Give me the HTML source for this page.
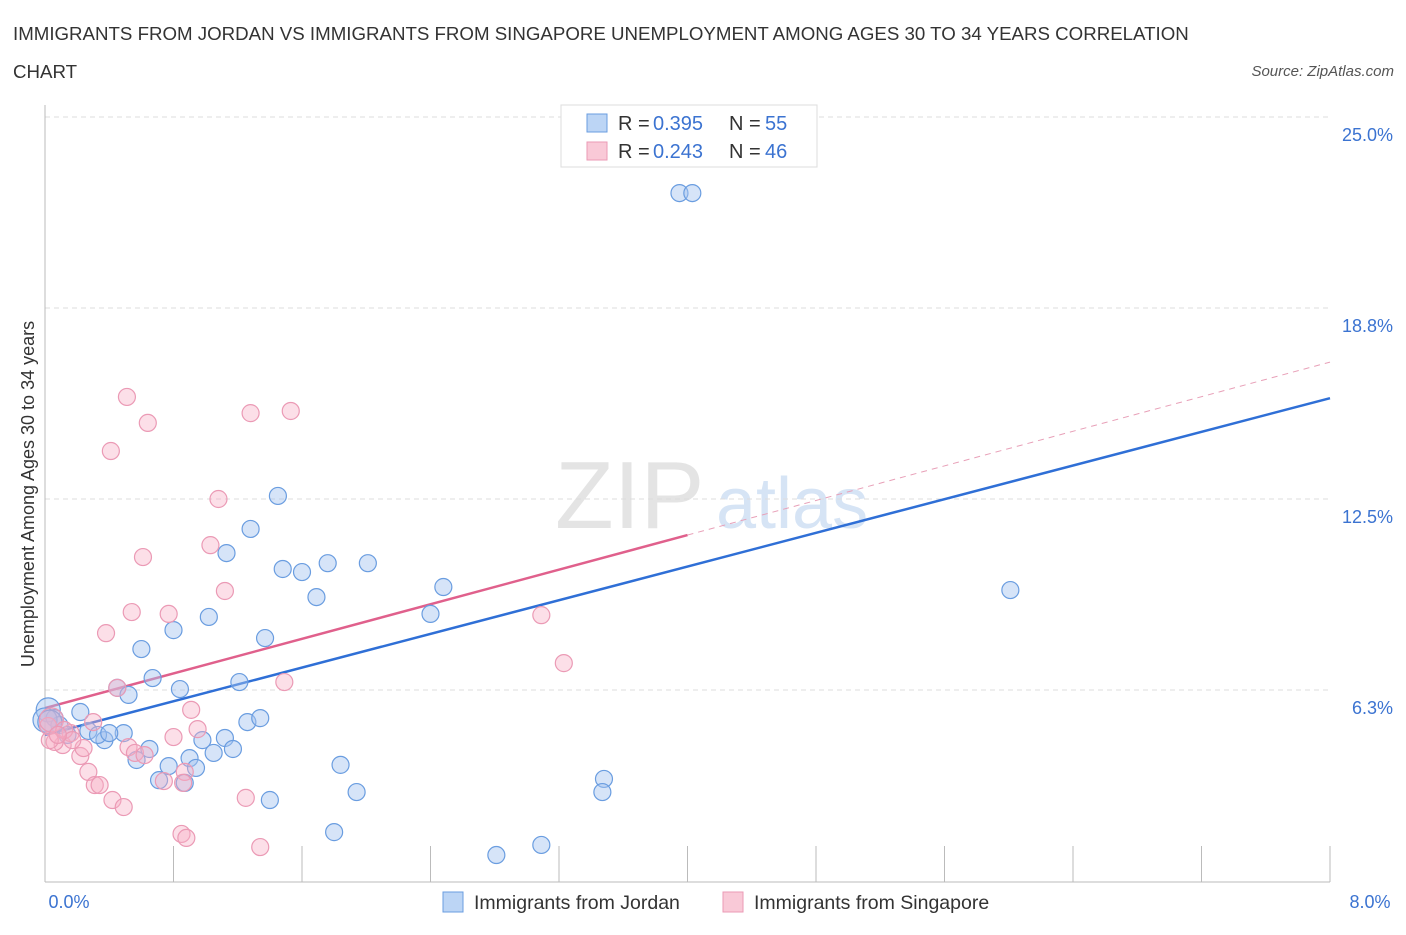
<!DOCTYPE html>
<html><head><meta charset="utf-8"><style>
body{margin:0;background:#fff;font-family:"Liberation Sans",sans-serif;}
svg text{font-family:"Liberation Sans",sans-serif;}
</style></head><body>
<svg id="chart" width="1406" height="930" xmlns="http://www.w3.org/2000/svg">
<text x="13" y="40" font-size="18.7" fill="#333">IMMIGRANTS FROM JORDAN VS IMMIGRANTS FROM SINGAPORE UNEMPLOYMENT AMONG AGES 30 TO 34 YEARS CORRELATION</text>
<text x="13" y="78" font-size="18.7" fill="#333">CHART</text>
<text x="1394" y="76" font-size="15" fill="#555" text-anchor="end" font-style="italic">Source: ZipAtlas.com</text>
<text x="555" y="528" font-size="96" fill="#e4e4e4" font-family="Liberation Serif">ZIP</text>
<text x="716" y="528" font-size="72" fill="#d6e4f5">atlas</text>
<g id="grid"></g><g id="axes"></g><g id="lines"></g><g id="points"></g>
<text transform="translate(34,494) rotate(-90)" font-size="18" fill="#333" text-anchor="middle">Unemployment Among Ages 30 to 34 years</text>
<g>
<rect x="561" y="105" width="256" height="62" fill="#fff" stroke="#ddd"/>
<rect x="587" y="114" width="20" height="18" fill="#bcd5f5" stroke="#6a9de0"/>
<rect x="587" y="142" width="20" height="18" fill="#f9c9d7" stroke="#eb9ab5"/>
<text x="618" y="130" font-size="20" fill="#333">R = </text><text x="653" y="130" font-size="20" fill="#3b73d1">0.395</text>
<text x="729" y="130" font-size="20" fill="#333">N = </text><text x="765" y="130" font-size="20" fill="#3b73d1">55</text>
<text x="618" y="158" font-size="20" fill="#333">R = </text><text x="653" y="158" font-size="20" fill="#3b73d1">0.243</text>
<text x="729" y="158" font-size="20" fill="#333">N = </text><text x="765" y="158" font-size="20" fill="#3b73d1">46</text>
</g>
<g>
<rect x="443" y="892" width="20" height="20" fill="#bcd5f5" stroke="#6a9de0"/>
<text x="474" y="909" font-size="19.5" fill="#333">Immigrants from Jordan</text>
<rect x="723" y="892" width="20" height="20" fill="#f9c9d7" stroke="#eb9ab5"/>
<text x="754" y="909" font-size="19.5" fill="#333">Immigrants from Singapore</text>
</g>
</svg>
<script>
const yTicks=[6.25,12.5,18.75,25];
const yTickLabels=["6.3%","12.5%","18.8%","25.0%"];
const xTickCount=10;
const jordanX=[3.95,4.03,1.45,1.28,1.13,1.48,1.60,1.76,2.01,1.69,2.48,2.40,6.01,1.02,0.80,1.37,0.60,0.67,0.84,1.21,0.45,0.52,0.22,1.26,1.34,0.02,0.06,0.09,0.27,0.37,0.33,0.49,0.40,0.98,1.12,0.65,1.17,1.05,0.57,0.77,0.90,0.94,1.84,0.71,0.87,3.48,3.47,1.94,1.40,1.80,2.81,3.09,0.00,0.03,0.14];
const jordanY=[22.51,22.51,12.60,11.52,10.73,10.21,10.11,10.40,10.40,9.29,9.62,8.74,9.52,8.64,8.21,7.95,7.59,6.64,6.28,6.51,6.32,6.09,5.53,5.20,5.33,5.60,5.33,5.10,4.91,4.61,4.78,4.84,4.84,4.61,4.68,4.32,4.32,4.19,3.96,3.76,4.02,3.70,3.80,3.30,3.21,3.34,2.91,2.91,2.65,1.60,0.85,1.18,5.27,5.20,4.78];
const singX=[0.51,0.64,0.41,1.28,1.53,1.08,1.03,0.61,1.12,0.54,0.77,0.38,3.09,3.23,1.49,0.45,0.91,0.30,0.95,0.80,0.52,0.56,0.62,0.22,0.24,0.11,0.06,0.03,0.16,0.27,0.31,0.34,0.42,0.49,0.87,0.86,0.74,1.25,0.85,0.88,1.34,0.02,0.04,0.12,0.17,0.08];
const singY=[15.84,14.99,14.07,15.31,15.38,12.50,10.99,10.60,9.49,8.80,8.74,8.11,8.70,7.13,6.51,6.32,5.60,5.20,4.97,4.71,4.38,4.19,4.12,4.09,4.35,4.45,4.55,4.61,4.84,3.57,3.14,3.14,2.65,2.42,3.57,3.21,3.27,2.72,1.54,1.41,1.11,5.07,5.27,4.94,4.61,4.78];
const jordanTrend=[4.78,15.80];
const singTrend=[5.66,16.98];
const singSolidEnd=4.0;
const NS="http://www.w3.org/2000/svg";
const X=v=>45+v/8*1285, Y=v=>881-v*30.56;
function mk(tag,attrs,parent){const e=document.createElementNS(NS,tag);for(const k in attrs)e.setAttribute(k,attrs[k]);parent.appendChild(e);return e;}
const grid=document.getElementById('grid'),axes=document.getElementById('axes'),lines=document.getElementById('lines'),pts=document.getElementById('points');
yTicks.forEach((t,i)=>{
 const l=mk('line',{x1:45,x2:1330,y1:Y(t),y2:Y(t),stroke:'#ddd','stroke-dasharray':'5,4'},grid);
 
 
 const tx=mk('text',{x:1393,y:Y(t)+24,'font-size':18,fill:'#3b73d1','text-anchor':'end'},axes);
 tx.textContent=yTickLabels[i];
 
 
});
const ax=mk('line',{x1:45,x2:1330,y1:882,y2:882,stroke:'#bbb'},axes);


const ay=mk('line',{x1:45,x2:45,y1:105,y2:882,stroke:'#bbb'},axes);


for(let i=1;i<=xTickCount;i++){const v=8*i/xTickCount;const t=mk('line',{x1:X(v),x2:X(v),y1:846,y2:882,stroke:'#bbb'},axes);
 
 }
[["0.0%",69],["8.0%",1370]].forEach(([s,x])=>{const t=mk('text',{x:x,y:908,'font-size':18,fill:'#3b73d1','text-anchor':'middle'},axes);t.textContent=s;
 
 });
function dots(xs,ys,fill,stroke,name){xs.forEach((x,i)=>{const c=mk('circle',{cx:X(x),cy:Y(ys[i]),r:(x<0.05&&ys[i]>5.1)?12:8.5,fill:fill,stroke:stroke,'stroke-width':1.2},pts);
 
 });}
dots(jordanX,jordanY,'rgba(164,196,240,0.45)','#6a9de0','jordan-point');
dots(singX,singY,'rgba(248,176,198,0.4)','#eb9ab5','singapore-point');
const bl=mk('line',{x1:X(0),y1:Y(jordanTrend[0]),x2:X(8),y2:Y(jordanTrend[1]),stroke:'#2f6fd6','stroke-width':2.5},lines);


const sv=v=>singTrend[0]+(singTrend[1]-singTrend[0])*v/8;
const pl=mk('line',{x1:X(0),y1:Y(sv(0)),x2:X(singSolidEnd),y2:Y(sv(singSolidEnd)),stroke:'#e0608c','stroke-width':2.5},lines);


const pd=mk('line',{x1:X(singSolidEnd),y1:Y(sv(singSolidEnd)),x2:X(8),y2:Y(sv(8)),stroke:'#e8a0b8','stroke-width':1,'stroke-dasharray':'6,5'},lines);


</script>
</body></html>
